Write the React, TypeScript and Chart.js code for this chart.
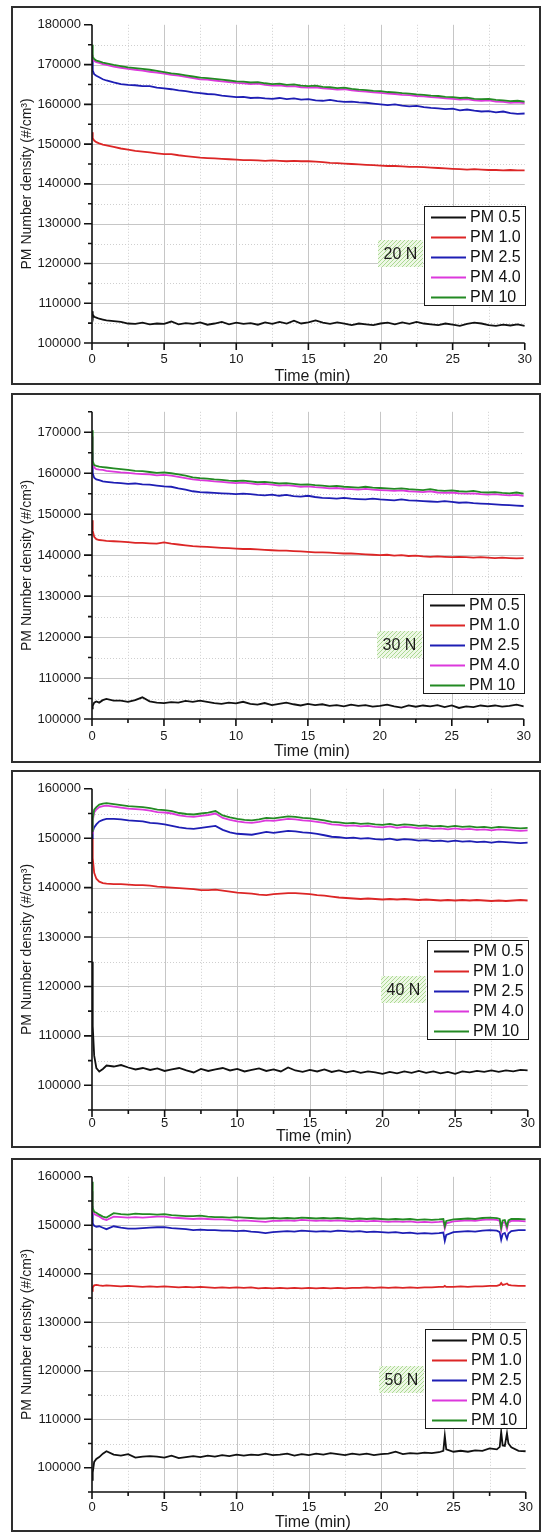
import React, { useEffect, useRef } from "react";
import { Chart, registerables } from "chart.js";

Chart.register(...registerables);

// ---------------- data ----------------
const TIME = [
  0, 0.05, 0.15, 0.3, 0.5, 0.75, 1,
  1.5, 2, 2.5, 3, 3.5, 4, 4.5, 5,
  5.5, 6, 6.5, 7, 7.5, 8, 8.5, 9, 9.5, 10,
  10.5, 11, 11.5, 12, 12.5, 13, 13.5, 14, 14.5, 15,
  15.5, 16, 16.5, 17, 17.5, 18, 18.5, 19, 19.5, 20,
  20.5, 21, 21.5, 22, 22.5, 23, 23.5, 24, 24.5, 25,
  25.5, 26, 26.5, 27, 27.5, 28, 28.5, 29, 29.5, 30,
];

const TIME_50N = [
  0, 0.05, 0.15, 0.3, 0.5, 0.75, 1,
  1.5, 2, 2.5, 3, 3.5, 4, 4.5, 5,
  5.5, 6, 6.5, 7, 7.5, 8, 8.5, 9, 9.5, 10,
  10.5, 11, 11.5, 12, 12.5, 13, 13.5, 14, 14.5, 15,
  15.5, 16, 16.5, 17, 17.5, 18, 18.5, 19, 19.5, 20,
  20.5, 21, 21.5, 22, 22.5, 23, 23.5, 24,
  24.3, 24.4, 24.5, 25,
  25.5, 26, 26.5, 27, 27.5, 28,
  28.2, 28.3, 28.4, 28.55, 28.7, 28.8,
  29, 29.5, 30,
];

// ---- 20 N ----
const PM05_20N = [
  108000, 107200, 106600, 106400, 106100, 105900, 105700,
  105500, 105300, 104900, 104800, 105100, 104700, 104900, 104800,
  105400, 104700, 105000, 104800, 105200, 104600, 104900, 105300, 104700, 105100,
  104800, 105000, 104600, 105200, 104800, 105300, 104900, 105600, 104900, 105200,
  105700, 105100, 104800, 105200, 104900, 104500, 104900, 104700, 104500, 104900,
  105100, 104700, 105200, 104800, 105300, 104900, 104700, 104500, 104900, 104600,
  104300, 104800, 105100, 104900, 104500, 104300, 104600, 104400, 104700, 104300,
];
const PM10_20N_1 = [
  153000, 151500, 150900, 150500, 150200, 149900, 149700,
  149300, 148900, 148600, 148300, 148100, 147900, 147700, 147500,
  147500, 147200, 147000, 146800, 146600, 146500, 146400, 146300, 146200, 146100,
  146000, 146000, 145900, 145800, 145900, 145800, 145700, 145800, 145700, 145700,
  145600, 145500, 145300, 145200, 145100, 145000, 144900, 144800, 144700, 144600,
  144500, 144500, 144400, 144300, 144300, 144200, 144100, 144000, 143900, 143800,
  143700, 143600, 143700, 143600, 143500, 143500, 143400, 143500, 143400, 143400,
];
const PM25_20N = [
  171500, 168500, 167600, 167200, 166800, 166300, 166000,
  165500, 165100, 164900, 164800, 164600, 164600, 164200, 164000,
  163800, 163500, 163300, 163000, 162800, 162600, 162500, 162200, 162000, 161800,
  161900, 161600, 161700, 161500, 161400, 161600, 161300, 161500, 161200, 161300,
  161000, 160900, 161100, 160800, 160600, 160700, 160500, 160400, 160200, 160000,
  159800, 160000, 159700, 159500, 159600, 159300, 159100, 159000, 158800, 158900,
  158500, 158700, 158400, 158200, 158300, 158000, 158200, 157800, 157600, 157700,
];
const PM40_20N = [
  172500, 171200, 170900, 170600, 170400, 170100, 169900,
  169500, 169200, 168900, 168700, 168500, 168200, 168000, 167700,
  167400, 167200, 166900, 166600, 166300, 166200, 166000, 165800, 165600, 165400,
  165300, 165100, 165200, 164900, 164700, 164800, 164500, 164600, 164300, 164200,
  164300, 164000, 163900, 163700, 163800, 163500, 163300, 163200, 163000, 162900,
  162700, 162600, 162400, 162300, 162100, 162000, 161800, 161700, 161500, 161400,
  161200, 161300, 161000, 160900, 161000, 160700, 160600, 160400, 160500, 160300,
];
const PM100_20N = [
  175000, 172000, 171400, 171000, 170800, 170500, 170300,
  169900, 169600, 169300, 169100, 168900, 168700, 168400, 168100,
  167800, 167600, 167300, 167000, 166700, 166600, 166400, 166200, 166000, 165800,
  165700, 165500, 165600, 165300, 165100, 165200, 164900, 165000, 164700, 164600,
  164700, 164400, 164300, 164100, 164200, 163900, 163700, 163600, 163400, 163300,
  163100, 163000, 162800, 162700, 162500, 162400, 162200, 162100, 161900, 161800,
  161600, 161700, 161400, 161300, 161400, 161100, 161000, 160800, 160900, 160700,
];

// ---- 30 N ----
const PM05_30N = [
  102600, 103200, 104000, 104300, 104000, 104600, 104900,
  104500, 104500, 104200, 104600, 105300, 104300, 104000, 103900,
  104100, 104000, 104400, 104200, 104500, 104200, 103900, 103700, 104000, 103800,
  104200, 103700, 103500, 103900, 103400, 103700, 104000, 103600, 103300, 103700,
  103400, 103600, 103200, 103400, 103100, 103500, 103200, 103400, 103000, 103200,
  103500, 103100, 102800, 103300, 103000, 103300, 103100, 103400, 102900, 103300,
  102700, 103100, 102900, 103300, 103100, 103300, 103000, 103200, 103500, 103100,
];
const PM10_30N_1 = [
  148500, 146000, 144500, 143900, 143700, 143600, 143500,
  143400, 143300, 143200, 143000, 143000, 142900, 142800, 143100,
  142800, 142600, 142400, 142200, 142100, 142000, 141900, 141800, 141700, 141600,
  141500, 141500, 141400, 141300, 141200, 141100, 141100, 141000, 140900, 140800,
  140700, 140700, 140600, 140500, 140400, 140400, 140300, 140200, 140100, 140000,
  140100, 139900, 140000, 139800, 139900, 139700, 139600, 139700, 139600, 139500,
  139600, 139500, 139400, 139500, 139400, 139300, 139400, 139300, 139200, 139300,
];
const PM25_30N = [
  165000, 160000, 158900, 158500, 158300, 158000, 157900,
  157700, 157600, 157400, 157500, 157300, 157200, 157000, 156800,
  156700, 156300, 156000, 155600, 155400, 155300, 155200, 155100, 155000, 154900,
  155000, 154900, 154700, 154600, 154800, 154500, 154700, 154400, 154300, 154500,
  154200, 154000, 153900, 153800, 154000, 153800, 153700, 153600, 153800, 153600,
  153500, 153400, 153600, 153400, 153300, 153200, 153100, 153000, 153200, 153000,
  152800, 152900, 152700, 152600, 152500, 152400, 152300, 152200, 152100, 152000,
];
const PM40_30N = [
  169000, 162500, 161400, 161000, 160900, 160800, 160600,
  160400, 160200, 160100, 159900, 159800, 159700, 159500, 159600,
  159400, 159100, 158800, 158500, 158300, 158200, 158000, 157900, 157700, 157600,
  157700, 157500, 157300, 157400, 157200, 157000, 157100, 156900, 156700, 156800,
  156600, 156500, 156300, 156400, 156200, 156100, 156000, 156200, 156000, 155900,
  155800, 155700, 155800, 155600, 155500, 155400, 155600, 155300, 155200, 155300,
  155100, 155000, 155100, 154900, 154800, 154900, 154700, 154600, 154700, 154500,
];
const PM100_30N = [
  170500, 163000, 162000, 161800, 161600, 161500, 161400,
  161200, 161000, 160800, 160600, 160500, 160300, 160100, 160200,
  160000, 159700, 159400, 159000, 158800, 158700, 158500, 158400, 158200, 158100,
  158200, 158000, 157800, 157900, 157700, 157500, 157600, 157400, 157200, 157300,
  157100, 157000, 156800, 156900, 156700, 156600, 156500, 156700, 156500, 156400,
  156300, 156200, 156300, 156100, 156000, 155900, 156100, 155800, 155700, 155800,
  155600, 155500, 155700, 155400, 155300, 155400, 155200, 155100, 155300, 155000,
];

// ---- 40 N ----
const PM05_40N = [
  125000, 112000, 106000, 103500, 102800, 103300, 104000,
  103800, 104100, 103600, 103200, 103500, 103100, 103400, 102900,
  103200, 103500, 103000, 102600, 103300, 102900, 103200, 103500, 103000, 103300,
  102800, 103100, 103400, 102900, 103200, 102800, 103600, 103000, 102700, 103100,
  102800, 103200, 102700, 103000, 102600, 102900, 102500, 102800, 102600, 102300,
  102700, 102400, 102800, 102500, 102900, 102500, 102800, 102400, 102700, 102300,
  102800, 102600, 102900, 102700, 103000, 102700, 103000, 102800, 103100, 103000,
];
const PM10_40N_1 = [
  150000, 146000, 143000, 141800, 141200, 140900, 140800,
  140700, 140700, 140600, 140500, 140500, 140400, 140200, 140100,
  140000, 139900, 139800, 139700, 139500, 139500, 139600, 139400, 139200, 139000,
  138900, 138800, 138600, 138500, 138700, 138800, 138900, 138900, 138800, 138700,
  138500, 138400, 138200, 138000, 137900, 137800, 137700, 137800, 137700, 137600,
  137700, 137600, 137700, 137600, 137500, 137600, 137500, 137400, 137500, 137400,
  137500, 137400, 137500, 137400, 137300, 137400, 137300, 137400, 137500, 137400,
];
const PM25_40N = [
  150000, 151300, 152200, 152800, 153400, 153700, 153900,
  153900, 153800, 153600, 153500, 153400, 153100, 153000, 152800,
  152500, 152200, 152000, 151900, 152100, 152300, 152500, 151700, 151200, 150900,
  150800, 150700, 151000, 151300, 151100, 151300, 151500, 151400, 151200, 151100,
  150900, 150600, 150300, 150200, 150000, 150100, 149900, 150000, 149800, 149700,
  149900, 149600, 149800, 149700, 149500, 149600, 149400, 149500, 149300, 149500,
  149300, 149400, 149200, 149300, 149100, 149300, 149200, 149100, 149000, 149100,
];
const PM40_40N = [
  151000, 153500, 155200, 155800, 156300, 156500, 156600,
  156400, 156200, 156000, 155900, 155800, 155600, 155300, 155200,
  155000, 154600, 154400, 154300, 154500, 154700, 155000, 154100, 153700, 153400,
  153200, 153100, 153300, 153600, 153500, 153700, 153900, 153800, 153600, 153500,
  153300, 153100, 152800, 152700, 152500, 152600, 152400, 152500, 152300, 152200,
  152400, 152100, 152300, 152200, 152000, 152100, 151900, 152000, 151800, 152000,
  151800, 151900, 151700, 151800, 151600, 151800, 151700, 151600, 151500, 151600,
];
const PM100_40N = [
  151500, 154000, 155800, 156300, 156800, 157000, 157100,
  156900, 156700, 156500, 156400, 156300, 156100, 155800, 155700,
  155500, 155100, 154900, 154800, 155000, 155200, 155500, 154600, 154200, 153900,
  153700, 153600, 153800, 154100, 154000, 154200, 154400, 154300, 154100, 154000,
  153800, 153600, 153300, 153200, 153000, 153100, 152900, 153000, 152800, 152700,
  152900, 152600, 152800, 152700, 152500, 152600, 152400, 152500, 152300, 152500,
  152300, 152400, 152200, 152300, 152100, 152300, 152200, 152100, 152000, 152100,
];

// ---- 50 N ----
const PM05_50N = [
  97500, 99000, 101200, 101800, 102200, 102900, 103400,
  102700, 102500, 102800, 102100, 102300, 102400, 102300, 102100,
  102500, 102000, 102200, 102400, 102200, 102500, 102300, 102600, 102400, 102700,
  102500, 102700, 102600, 102900, 102600, 102700, 102900, 102500, 102800, 102600,
  102900, 102700, 103000, 102800, 102600, 102900, 102700, 102900, 102600, 102800,
  102900, 103300, 102800, 103000, 102900, 103100, 103000, 103200,
  103500, 106600, 103800, 103300,
  103500, 103300, 103600, 103500, 104000, 103800,
  104300, 107400, 104600, 104500, 107100, 105000,
  104200, 103500, 103400,
];
const PM10_50N_1 = [
  136500, 137200, 137600, 137700, 137600, 137500, 137600,
  137500, 137400, 137500, 137400, 137300, 137400, 137300, 137400,
  137300, 137200, 137300, 137200, 137300, 137200, 137100, 137200, 137100, 137200,
  137100, 137200, 137000, 137100, 137000, 137100, 137000, 137100, 137000, 137100,
  137000, 137100, 137000, 137100, 137000, 137100, 137100, 137200, 137100, 137200,
  137100, 137200, 137100, 137200, 137100, 137200, 137200, 137300,
  137300, 137500, 137300, 137300,
  137400, 137300, 137400, 137400, 137500, 137500,
  137700, 138100, 137700, 137800, 138000, 137700,
  137600, 137500, 137500,
];
const PM25_50N = [
  154000, 150400, 149900, 149700, 149800, 149500, 149200,
  149800, 149500, 149300, 149300, 149400, 149500, 149600, 149600,
  149400, 149300, 149200, 149000, 149100, 149000, 149000, 148900, 148900, 148800,
  148900, 148700, 148600, 148400, 148600, 148700, 148800, 148700, 148900, 148800,
  148700, 148800, 148700, 148900, 148800, 148700, 148800, 148600, 148700, 148600,
  148500, 148600, 148400, 148500, 148300, 148400, 148300, 148400,
  148500, 146800, 148000, 148600,
  148700, 148800, 148700, 148900, 149000, 148900,
  148600, 147000, 148200, 148400, 147200, 148300,
  148800, 149000, 149000,
];
const PM40_50N = [
  157000, 153000, 152300, 152100, 151800, 151300, 151100,
  151800, 151700, 151600, 151700, 151600, 151700, 151800, 151800,
  151600, 151500, 151400, 151300, 151400, 151300, 151200, 151200, 151100, 150900,
  151000, 150900, 150800, 150700, 150900, 150900, 151000, 150900, 151100, 151000,
  150900, 151000, 150900, 151000, 150900, 150800, 150900, 150800, 150900, 150800,
  150700, 150800, 150700, 150800, 150600, 150700, 150600, 150700,
  150800, 149300, 150400, 150800,
  150900, 151000, 150900, 151100, 151200, 151100,
  150900, 149000, 150500, 150700, 149200, 150600,
  150900, 150900, 150800,
];
const PM100_50N = [
  159000, 153600, 152800, 152600, 152200, 151800, 151600,
  152500, 152300, 152200, 152400, 152300, 152300, 152200, 152300,
  152100, 152000, 151900, 151900, 152000, 151800, 151700, 151700, 151600, 151700,
  151600, 151500, 151400, 151400, 151500, 151400, 151500, 151400, 151600, 151500,
  151400, 151500, 151400, 151500, 151400, 151300, 151400, 151300, 151400, 151300,
  151200, 151300, 151200, 151300, 151100, 151200, 151100, 151200,
  151300, 149800, 150900, 151200,
  151300, 151400, 151300, 151500, 151600, 151500,
  151300, 149500, 151000, 151100, 149800, 151000,
  151300, 151300, 151200,
];

const SERIES_LABELS = ["PM 0.5", "PM 1.0", "PM 2.5", "PM 4.0", "PM 10"];
const SERIES_COLORS = ["#111111", "#dc2626", "#1e1eb4", "#dc38dc", "#238a23"];
const LOAD_LABELS = ["20 N", "30 N", "40 N", "50 N"];
const Y_MIN = [100000, 100000, 95000, 95000];
const Y_MAX = [180000, 175000, 160000, 160000];
const X_MIN = 0;
const X_MAX = 30;
const X_TITLE = "Time (min)";
const Y_TITLE = "PM Number density (#/cm\u00B3)";

const PANEL_TIMES = [TIME, TIME, TIME, TIME_50N];
const PANEL_SERIES = [
  [PM05_20N, PM10_20N_1, PM25_20N, PM40_20N, PM100_20N],
  [PM05_30N, PM10_30N_1, PM25_30N, PM40_30N, PM100_30N],
  [PM05_40N, PM10_40N_1, PM25_40N, PM40_40N, PM100_40N],
  [PM05_50N, PM10_50N_1, PM25_50N, PM40_50N, PM100_50N],
];

// ---------------- layout (page pixels) ----------------
const FRAME_LEFT = 11;
const FRAME_W = 530;
const PLOT_LEFT = 92;
const PLOT_RIGHT = 531;
const PANELS = [
  { frameTop: 6, frameH: 379, plotTop: 16, plotBottom: 343, xLabelPad: 9, xTitleGap: 34, legendTop: 181.5, labelOffset: 47 },
  { frameTop: 393, frameH: 370, plotTop: 395, plotBottom: 719, xLabelPad: 10, xTitleGap: 33, legendTop: 182.5, labelOffset: 50.5 },
  { frameTop: 770, frameH: 378, plotTop: 779, plotBottom: 1110, xLabelPad: 6, xTitleGap: 27, legendTop: 151.5, labelOffset: 49.5 },
  { frameTop: 1158, frameH: 374, plotTop: 1168, plotBottom: 1492, xLabelPad: 8, xTitleGap: 31, legendTop: 152.5, labelOffset: 50.5 },
];

const FONT = '"Liberation Sans", Arial, Helvetica, sans-serif';
Chart.defaults.font.family = FONT;

function makeDecorPlugin(idx: number) {
  const p = PANELS[idx];
  const ymin = Y_MIN[idx];
  const ymax = Y_MAX[idx];
  let hatch: any = null;
  return {
    id: "originDecor" + idx,
    beforeDatasetsDraw(chart: any) {
      const { ctx, chartArea: a } = chart;
      const xs = chart.scales.x;
      const ys = chart.scales.y;
      ctx.save();
      ctx.lineWidth = 1;
      ctx.setLineDash([1, 2]);
      ctx.strokeStyle = "#cfcfcf";
      ctx.beginPath();
      for (let v = 2.5; v < X_MAX; v += 5) {
        const px = Math.round(xs.getPixelForValue(v)) + 0.5;
        ctx.moveTo(px, a.top);
        ctx.lineTo(px, a.bottom);
      }
      for (let v = ymin; v <= ymax; v += 5000) {
        if (v % 10000 === 0 || v === ymin || v === ymax) continue;
        const py = Math.round(ys.getPixelForValue(v)) + 0.5;
        ctx.moveTo(a.left, py);
        ctx.lineTo(a.right, py);
      }
      ctx.stroke();
      ctx.setLineDash([]);
      ctx.strokeStyle = "#c6c6c6";
      ctx.beginPath();
      for (let v = 5; v < X_MAX; v += 5) {
        const px = Math.round(xs.getPixelForValue(v)) + 0.5;
        ctx.moveTo(px, a.top);
        ctx.lineTo(px, a.bottom);
      }
      for (let v = ymin; v <= ymax; v += 5000) {
        if (v % 10000 !== 0 || v === ymin || v === ymax) continue;
        const py = Math.round(ys.getPixelForValue(v)) + 0.5;
        ctx.moveTo(a.left, py);
        ctx.lineTo(a.right, py);
      }
      ctx.stroke();
      ctx.restore();
    },
    afterDatasetsDraw(chart: any) {
      const { ctx, chartArea: a } = chart;
      const xs = chart.scales.x;
      const ys = chart.scales.y;
      ctx.save();
      ctx.strokeStyle = "#111";
      ctx.lineWidth = 1.6;
      ctx.setLineDash([]);
      ctx.beginPath();
      ctx.moveTo(a.left, a.top);
      ctx.lineTo(a.left, a.bottom);
      ctx.lineTo(a.right, a.bottom);
      for (let v = ymin; v <= ymax; v += 5000) {
        const py = ys.getPixelForValue(v);
        const len = v % 10000 === 0 ? 8 : 4;
        ctx.moveTo(a.left - len, py);
        ctx.lineTo(a.left, py);
      }
      for (let v = X_MIN; v <= X_MAX; v += 2.5) {
        const px = xs.getPixelForValue(v);
        const len = v % 5 === 0 ? 7 : 4;
        ctx.moveTo(px, a.bottom);
        ctx.lineTo(px, a.bottom + len);
      }
      ctx.stroke();

      ctx.fillStyle = "#1a1a1a";
      ctx.textAlign = "center";
      ctx.textBaseline = "middle";
      ctx.font = `16px ${FONT}`;
      ctx.fillText(X_TITLE, (a.left + a.right) / 2 + 4, a.bottom + p.xTitleGap);
      ctx.save();
      ctx.translate(16, (a.top + a.bottom) / 2);
      ctx.rotate(-Math.PI / 2);
      ctx.font = `14px ${FONT}`;
      ctx.fillText(Y_TITLE, 0, 0);
      ctx.restore();

      const lw = 102;
      const lh = 100;
      const lx = Math.round(a.right + 1 - lw);
      const ly = Math.round(a.top + p.legendTop);
      ctx.fillStyle = "#ffffff";
      ctx.fillRect(lx, ly, lw, lh);
      ctx.strokeStyle = "#1a1a1a";
      ctx.lineWidth = 1;
      ctx.strokeRect(lx + 0.5, ly + 0.5, lw - 1, lh - 1);
      ctx.font = `16px ${FONT}`;
      ctx.textAlign = "left";
      ctx.textBaseline = "middle";
      SERIES_LABELS.forEach((lab, i) => {
        const cy = ly + 10.5 + 20 * i;
        ctx.strokeStyle = SERIES_COLORS[i];
        ctx.lineWidth = 2;
        ctx.beginPath();
        ctx.moveTo(lx + 7, Math.round(cy) + 0.5);
        ctx.lineTo(lx + 42, Math.round(cy) + 0.5);
        ctx.stroke();
        ctx.fillStyle = "#111";
        ctx.fillText(lab, lx + 46, cy + 1);
      });

      if (!hatch) {
        const c = document.createElement("canvas");
        c.width = 4;
        c.height = 4;
        const g = c.getContext("2d")!;
        g.fillStyle = "#eef8e6";
        g.fillRect(0, 0, 4, 4);
        g.strokeStyle = "#acd994";
        g.lineWidth = 1;
        g.beginPath();
        g.moveTo(-1, 5);
        g.lineTo(5, -1);
        g.moveTo(3, 5);
        g.lineTo(5, 3);
        g.moveTo(-1, 1);
        g.lineTo(1, -1);
        g.stroke();
        hatch = ctx.createPattern(c, "repeat");
      }
      const bw = 45;
      const bh = 27;
      const bx = lx - 1 - bw;
      const by = Math.round(ly + p.labelOffset - bh / 2);
      ctx.fillStyle = hatch;
      ctx.fillRect(bx, by, bw, bh);
      ctx.fillStyle = "#1a1a1a";
      ctx.textAlign = "center";
      ctx.font = `16px ${FONT}`;
      ctx.fillText(LOAD_LABELS[idx], bx + bw / 2, by + bh / 2 + 1);

      ctx.strokeStyle = "#2e2e2e";
      ctx.lineWidth = 2;
      ctx.strokeRect(1, 1, chart.width - 2, chart.height - 2);
      ctx.restore();
    },
  };
}

function Panel({ idx }: { idx: number }) {
  const ref = useRef<HTMLCanvasElement | null>(null);
  const p = PANELS[idx];
  useEffect(() => {
    const canvas = ref.current;
    if (!canvas) return;
    const times = PANEL_TIMES[idx];
    const series = PANEL_SERIES[idx];
    const padTop = p.plotTop - p.frameTop;
    const xHeight = p.frameTop + p.frameH - p.plotBottom;
    const chart = new Chart(canvas, {
      type: "line",
      data: {
        datasets: series.map((vals, k) => ({
          label: SERIES_LABELS[k],
          data: times.map((t, i) => ({ x: t, y: vals[i] })),
          borderColor: SERIES_COLORS[k],
          backgroundColor: SERIES_COLORS[k],
          borderWidth: 1.8,
          pointRadius: 0,
          tension: 0,
          fill: false,
          order: 4 - k,
        })),
      },
      options: {
        animation: false,
        responsive: false,
        devicePixelRatio: 1,
        layout: {
          padding: { left: 0, right: FRAME_LEFT + FRAME_W - PLOT_RIGHT, top: padTop, bottom: 0 },
        },
        plugins: {
          legend: { display: false },
          tooltip: { enabled: false },
          title: { display: false },
        },
        scales: {
          x: {
            type: "linear",
            min: X_MIN,
            max: X_MAX,
            grid: { display: false, drawTicks: false },
            border: { display: false },
            ticks: {
              stepSize: 5,
              padding: p.xLabelPad,
              autoSkip: false,
              maxRotation: 0,
              color: "#1a1a1a",
              font: { family: FONT, size: 13 },
              callback: (v: any) => String(v),
            },
            afterFit: (s: any) => {
              s.height = xHeight;
            },
          },
          y: {
            type: "linear",
            min: Y_MIN[idx],
            max: Y_MAX[idx],
            grid: { display: false, drawTicks: false },
            border: { display: false },
            ticks: {
              stepSize: 5000,
              padding: 11,
              autoSkip: false,
              color: "#1a1a1a",
              font: { family: FONT, size: 13 },
              callback: (v: any) => (Number(v) % 10000 === 0 ? String(v) : null),
            },
            afterFit: (s: any) => {
              s.width = PLOT_LEFT - FRAME_LEFT;
            },
          },
        },
      } as any,
      plugins: [makeDecorPlugin(idx) as any],
    });
    return () => chart.destroy();
  }, [idx]);
  return (
    <canvas
      ref={ref}
      width={FRAME_W}
      height={p.frameH}
      style={{ position: "absolute", left: FRAME_LEFT, top: p.frameTop, width: FRAME_W, height: p.frameH }}
    />
  );
}

export default function App() {
  return (
    <div style={{ position: "absolute", left: 0, top: 0, width: 543, height: 1533, background: "#ffffff", overflow: "hidden" }}>
      {PANELS.map((_, i) => (
        <Panel key={i} idx={i} />
      ))}
    </div>
  );
}
